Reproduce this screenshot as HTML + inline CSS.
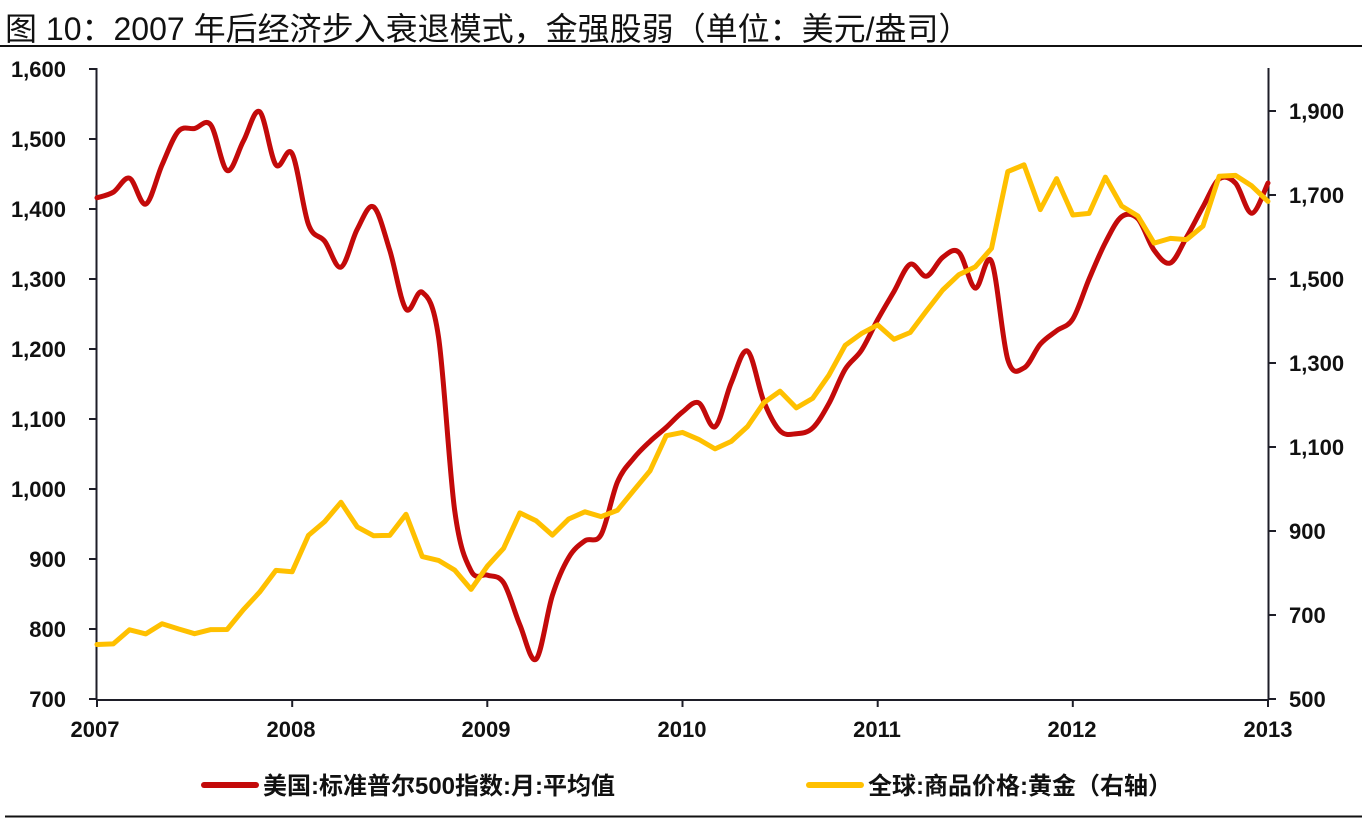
<!DOCTYPE html>
<html>
<head>
<meta charset="utf-8">
<style>
  html,body{margin:0;padding:0;background:#fff;}
  body{width:1372px;height:830px;overflow:hidden;}
  svg{display:block;}
  .t{font-family:"Liberation Sans","Noto Sans CJK SC",sans-serif;}
  .ax{font-family:"Liberation Sans",sans-serif;font-weight:bold;font-size:22px;fill:#111;}
  .lg{font-family:"Liberation Sans","Noto Sans CJK SC",sans-serif;font-weight:bold;font-size:24px;fill:#111;}
</style>
</head>
<body>
<svg width="1372" height="830" viewBox="0 0 1372 830" xmlns="http://www.w3.org/2000/svg">
  <rect width="1372" height="830" fill="#fff"/>
  <!-- title -->
  <text class="t" x="5" y="40" font-size="32" fill="#111">图 10：2007 年后经济步入衰退模式，金强股弱（单位：美元/盎司）</text>
  <line x1="0" y1="46" x2="1362" y2="46" stroke="#111" stroke-width="2"/>

  <!-- axes -->
  <g stroke="#1e1e28" stroke-width="2" fill="none">
    <line x1="96.5" y1="68" x2="96.5" y2="700"/>
    <line x1="96" y1="700" x2="1269" y2="700"/>
    <line x1="1268.5" y1="68" x2="1268.5" y2="700"/>
    <path d="M89 69H96M89 139H96M89 209H96M89 279H96M89 349H96M89 419H96M89 489H96M89 559H96M89 629H96M89 699H96"/>
    <path d="M1269 111H1276M1269 195H1276M1269 279H1276M1269 363H1276M1269 447H1276M1269 531H1276M1269 615H1276M1269 699H1276"/>
    <path d="M97 700V707M292.2 700V707M487.3 700V707M682.5 700V707M877.7 700V707M1072.8 700V707M1268 700V707"/>
  </g>

  <g class="ax" text-anchor="end">
    <text x="66" y="77">1,600</text>
    <text x="66" y="147">1,500</text>
    <text x="66" y="217">1,400</text>
    <text x="66" y="287">1,300</text>
    <text x="66" y="357">1,200</text>
    <text x="66" y="427">1,100</text>
    <text x="66" y="497">1,000</text>
    <text x="66" y="567">900</text>
    <text x="66" y="637">800</text>
    <text x="66" y="707">700</text>
  </g>
  <g class="ax" text-anchor="start">
    <text x="1289" y="119">1,900</text>
    <text x="1289" y="203">1,700</text>
    <text x="1289" y="287">1,500</text>
    <text x="1289" y="371">1,300</text>
    <text x="1289" y="455">1,100</text>
    <text x="1289" y="539">900</text>
    <text x="1289" y="623">700</text>
    <text x="1289" y="707">500</text>
  </g>
  <g class="ax" text-anchor="middle">
    <text x="95" y="737">2007</text>
    <text x="291" y="737">2008</text>
    <text x="486" y="737">2009</text>
    <text x="682" y="737">2010</text>
    <text x="877" y="737">2011</text>
    <text x="1072" y="737">2012</text>
    <text x="1268" y="737">2013</text>
  </g>

  <path id="red" fill="none" stroke="#C30A0A" stroke-width="5" stroke-linejoin="round" stroke-linecap="round"
    d="M97,197.8 L113.26,192.2 L129.53,178.2 L145.79,204.1 L162.06,164.9 L178.32,131.3 L194.58,128.5 L210.85,125 L227.11,170.5 L243.38,141.1 L259.64,111.7 L275.9,164.9 L292.17,153.7 L308.43,224.4 L324.69,241.2 L340.96,267.1 L357.22,229.3 L373.49,206.9 L389.75,250.3 L406.01,309.1 L422.28,292.3 L438.54,337.1 L454.81,511.4 L471.07,570.9 L487.33,575.1 L503.6,582.8 L519.86,624.8 L536.13,659.1 L552.39,595.4 L568.65,557.6 L584.92,540.8 L601.18,534.5 L617.44,482 L633.71,458.2 L649.97,441.4 L666.24,427.4 L682.5,412 L698.76,402.9 L715.03,426.7 L731.29,382.6 L747.56,351.1 L763.82,401.5 L780.08,430.9 L796.35,433.7 L812.61,428.1 L828.88,403.6 L845.14,369.3 L861.4,350.4 L877.67,319.6 L893.93,291.6 L910.19,264.3 L926.46,276.2 L942.72,257.3 L958.99,252.4 L975.25,288.1 L991.51,261.5 L1007.78,359.5 L1024.04,367.9 L1040.31,344.1 L1056.57,330.8 L1072.83,318.9 L1089.1,279 L1105.36,242.6 L1121.63,216.7 L1137.89,218.8 L1154.15,250.3 L1170.42,262.9 L1186.68,237 L1202.94,206.9 L1219.21,178.9 L1235.47,183.1 L1251.74,213.2 L1268,183"/>

  <polyline fill="none" stroke="#FFC000" stroke-width="5" stroke-linejoin="round" stroke-linecap="round"
    points="97,644.5 113.26,643.9 129.53,629.8 145.79,633.9 162.06,623.7 178.32,628.9 194.58,633.7 210.85,629.6 227.11,629.5 243.38,609.7 259.64,592.1 275.9,570.4 292.17,571.7 308.43,535.4 324.69,521.6 340.96,502.3 357.22,526.9 373.49,535.7 389.75,535.4 406.01,514.3 422.28,556.6 438.54,560.4 454.81,570.2 471.07,589.4 487.33,566.2 503.6,548.3 519.86,512.9 536.13,520.8 552.39,535.1 568.65,519 584.92,511.8 601.18,516.6 617.44,510.3 633.71,490.4 649.97,470.9 666.24,435.7 682.5,432.4 698.76,439.4 715.03,448.9 731.29,441.4 747.56,426.5 763.82,402.7 780.08,391.2 796.35,407.9 812.61,398.4 828.88,375.2 845.14,345.4 861.4,333.6 877.67,324.9 893.93,339.3 910.19,332.5 926.46,310.9 942.72,290 958.99,274.6 975.25,266.9 991.51,248.4 1007.78,171.6 1024.04,164.8 1040.31,209.6 1056.57,178.6 1072.83,215 1089.1,213.4 1105.36,177.1 1121.63,206 1137.89,216 1154.15,243.1 1170.42,238.4 1186.68,239.6 1202.94,226.1 1219.21,176.2 1235.47,175.4 1251.74,185.9 1268,201.4"/>

  <line x1="204" y1="785" x2="256" y2="785" stroke="#C30A0A" stroke-width="6" stroke-linecap="round"/>
  <text class="lg" x="263" y="794">美国:标准普尔500指数:月:平均值</text>
  <line x1="809" y1="785" x2="861" y2="785" stroke="#FFC000" stroke-width="6" stroke-linecap="round"/>
  <text class="lg" x="868" y="794">全球:商品价格:黄金（右轴）</text>

  <line x1="5" y1="816.5" x2="1362" y2="816.5" stroke="#111" stroke-width="2"/>
</svg>
<script>
(function(){
  var p=document.getElementById('red');
  var d=p.getAttribute('d').replace(/[ML]/g,' ').trim().split(/\s+/).map(function(s){var a=s.split(',');return [parseFloat(a[0]),parseFloat(a[1])];});
  var n=d.length, out='M'+d[0][0]+','+d[0][1];
  for(var i=0;i<n-1;i++){
    var p0=d[i>0?i-1:i],p1=d[i],p2=d[i+1],p3=d[i+2<n?i+2:i+1];
    var c1x=p1[0]+(p2[0]-p0[0])/6,c1y=p1[1]+(p2[1]-p0[1])/6;
    var c2x=p2[0]-(p3[0]-p1[0])/6,c2y=p2[1]-(p3[1]-p1[1])/6;
    out+=' C'+c1x.toFixed(2)+','+c1y.toFixed(2)+' '+c2x.toFixed(2)+','+c2y.toFixed(2)+' '+p2[0]+','+p2[1];
  }
  p.setAttribute('d',out);
})();
</script>
</body>
</html>
